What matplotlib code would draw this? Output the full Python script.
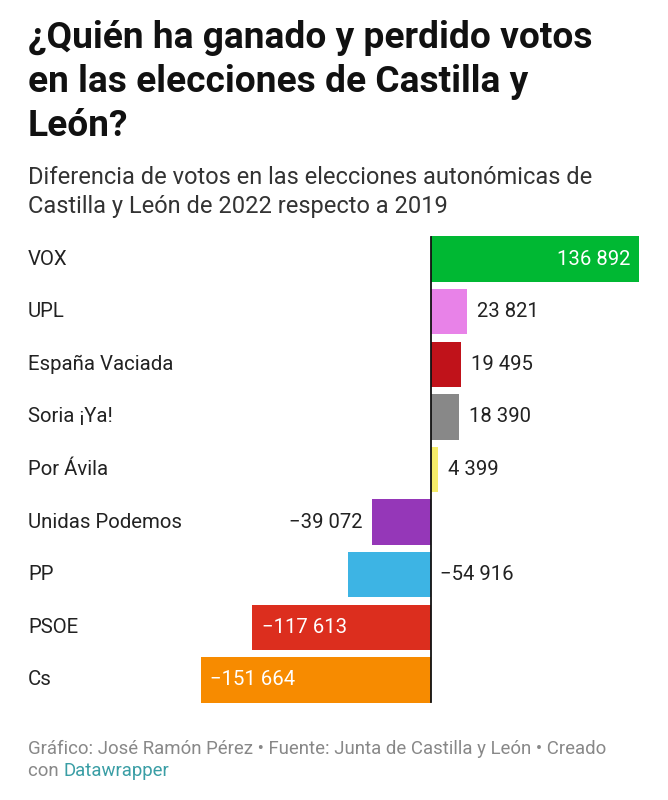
import matplotlib.pyplot as plt
from matplotlib import transforms

plt.rcParams['font.family'] = ['Roboto', 'DejaVu Sans']

parties = ["VOX", "UPL", "España Vaciada", "Soria ¡Ya!", "Por Ávila",
           "Unidas Podemos", "PP", "PSOE", "Cs"]
diffs = [136892, 23821, 19495, 18390, 4399, -39072, -54916, -117613, -151664]
colors = ["#00b833", "#e882e8", "#c0121a", "#888888", "#f5ec6a",
          "#9537b8", "#3db4e4", "#dc2e1e", "#f78b00"]
# where datawrapper put the value label: in = inside bar, out = outside, flip = other side of zero
label_pos = ["in", "out", "out", "out", "out", "out", "flip", "in", "in"]

title_lines = ["¿Quién ha ganado y perdido votos",
               "en las elecciones de Castilla y",
               "León?"]
subtitle_lines = ["Diferencia de votos en las elecciones autonómicas de",
                  "Castilla y León de 2022 respecto a 2019"]


def fmt(v):
    s = f"{abs(v):,}".replace(",", " ")
    return ("\u2212" + s) if v < 0 else s


W, H = 668, 800
fig = plt.figure(figsize=(W / 100, H / 100), dpi=100)
fig.patch.set_facecolor("white")

for i, line in enumerate(title_lines):
    fig.text(28 / W, 1 - (38 + 44 * i) / H, line, fontsize=26.7, fontweight="bold",
             color="#111111", va="center", ha="left")
for i, line in enumerate(subtitle_lines):
    fig.text(28 / W, 1 - (177 + 29 * i) / H, line, fontsize=17,
             color="#333333", va="center", ha="left")

# axes: zero at x=431px, bars scaled to data range
left, right = 200.5, 639
top, bottom = 232.7, 706.3
ax = fig.add_axes([left / W, 1 - bottom / H, (right - left) / W, (bottom - top) / H])
ax.set_xlim(min(diffs), max(diffs))
ax.set_ylim(len(parties) - 0.5, -0.5)

ys = list(range(len(parties)))
ax.barh(ys, diffs, height=0.86, color=colors)
ax.axvline(0, color="#111111", lw=1.3, ymin=0.01, ymax=0.99)

px = (max(diffs) - min(diffs)) / (right - left)  # votes per pixel
for y, name, v, pos in zip(ys, parties, diffs, label_pos):
    ax.text(28 / W, y, name, transform=transforms.blended_transform_factory(fig.transFigure, ax.transData),
            fontsize=14.7, color="#222222", va="center", ha="left")
    if pos == "in":
        x = v - 9 * px if v > 0 else v + 10 * px
        ha = "right" if v > 0 else "left"
        col = "white"
    elif pos == "out":
        x = v + 10 * px if v > 0 else v - 9 * px
        ha = "left" if v > 0 else "right"
        col = "#222222"
    else:
        x = 9 * px
        ha = "left"
        col = "#222222"
    ax.text(x, y, fmt(v), fontsize=14.6, color=col, va="center", ha=ha)

ax.axis("off")

fig.text(28 / W, 1 - 749 / H, "Gráfico: José Ramón Pérez • Fuente: Junta de Castilla y León • Creado",
         fontsize=13.4, color="#888888", va="center", ha="left")
t = fig.text(28 / W, 1 - 771 / H, "con ", fontsize=13.4, color="#888888", va="center", ha="left")
fig.canvas.draw()
bb = t.get_window_extent()
fig.text(bb.x1 / W, 1 - 771 / H, "Datawrapper", fontsize=13.4, color="#3a9ea5",
         va="center", ha="left")

fig.savefig("out.png", dpi=100)
